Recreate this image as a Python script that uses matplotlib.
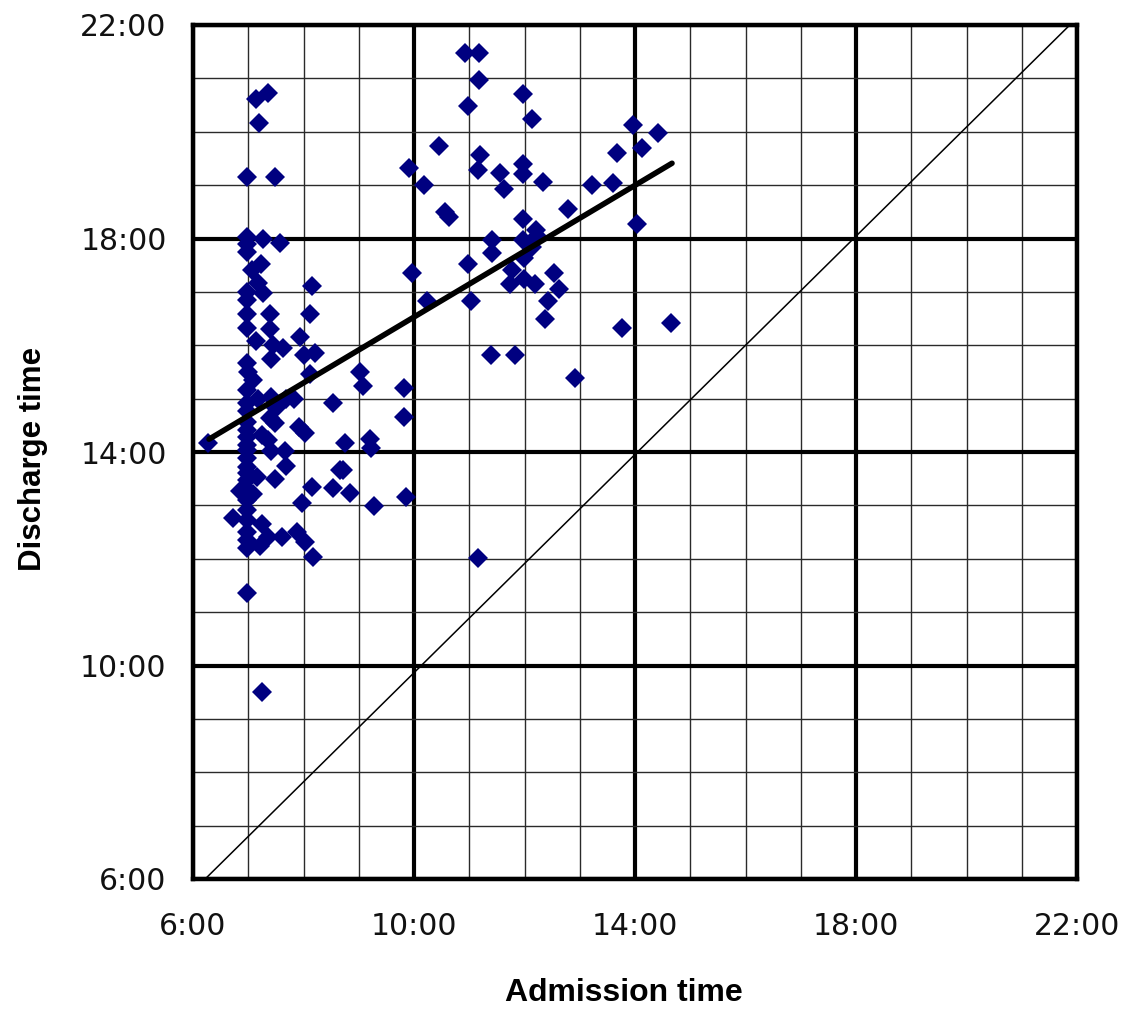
import matplotlib
matplotlib.use("Agg")
import matplotlib.pyplot as plt
from matplotlib.ticker import MultipleLocator, FuncFormatter

# Admission / discharge times in decimal hours
admission = [
    # dense column near 7:00
    6.97, 6.97, 6.97, 6.97, 6.97, 6.97, 6.97, 6.97, 6.97, 7.00,
    6.97, 6.97, 6.97, 6.97, 6.97, 6.97, 6.97, 6.97, 6.97, 6.97,
    6.97, 6.97, 6.97, 6.97, 6.97, 6.97, 6.97, 6.97, 6.97, 6.97,
    # around the column
    6.28, 6.73, 6.85, 7.09, 7.15, 7.09, 7.06, 7.14, 7.20, 7.36,
    7.49, 7.27, 7.57, 7.23, 7.18, 7.27, 8.16, 7.40, 8.12, 7.39,
    7.14, 7.94, 7.45, 7.62, 8.00, 8.21, 7.42, 8.12, 7.18, 7.42,
    7.82, 7.68, 8.54, 7.51, 7.39, 7.48, 7.91, 8.03, 7.24, 7.36,
    7.42, 7.67, 7.69, 7.48, 8.15, 7.97, 7.24, 7.88, 7.61, 7.36,
    8.03, 7.21, 8.18, 7.25,
    # 8:30 - 10:30
    9.97, 10.23, 9.03, 9.08, 9.81, 9.81, 8.75, 9.20, 9.23, 8.66,
    8.72, 8.53, 8.84, 9.28, 9.85, 9.91,
    # late-morning group
    10.93, 11.17, 11.17, 10.98, 11.98, 12.14, 10.45, 10.18, 11.20, 11.16,
    11.56, 11.62, 11.98, 11.98, 12.33, 13.23, 13.61, 13.67, 13.97, 14.41,
    14.12, 10.56, 10.64, 12.79, 11.98, 12.21, 14.03, 11.42, 11.98, 12.22,
    12.13, 11.99, 11.42, 10.98, 11.77, 12.54, 11.73, 11.99, 12.19, 12.63,
    11.04, 12.42, 12.38, 13.77, 14.65, 11.39, 11.82, 12.91, 11.16,
]
discharge = [
    19.15, 18.02, 17.90, 17.75, 17.00, 16.85, 16.59, 16.32, 15.66, 15.50,
    15.16, 14.91, 14.76, 14.57, 14.41, 14.28, 14.13, 14.04, 13.88, 13.72,
    13.61, 13.47, 13.29, 13.10, 12.91, 12.73, 12.51, 12.35, 12.20, 11.36,
    14.16, 12.76, 13.26, 13.22, 13.54, 15.35, 17.41, 20.61, 20.16, 20.73,
    19.16, 17.99, 17.91, 17.52, 17.16, 16.97, 17.11, 16.58, 16.58, 16.31,
    16.08, 16.16, 16.00, 15.94, 15.82, 15.85, 15.75, 15.46, 15.00, 15.03,
    15.00, 15.00, 14.91, 14.82, 14.63, 14.54, 14.46, 14.35, 14.32, 14.22,
    14.01, 14.01, 13.73, 13.50, 13.35, 13.04, 12.66, 12.51, 12.41, 12.41,
    12.32, 12.23, 12.04, 9.50,
    17.36, 16.82, 15.50, 15.24, 15.19, 14.66, 14.16, 14.25, 14.07, 13.66,
    13.66, 13.32, 13.24, 12.99, 13.16, 19.33,
    21.48, 21.48, 20.97, 20.48, 20.71, 20.24, 19.74, 19.00, 19.57, 19.28,
    19.23, 18.92, 19.39, 19.20, 19.06, 19.01, 19.04, 19.60, 20.13, 19.98,
    19.69, 18.50, 18.41, 18.56, 18.36, 18.16, 18.28, 17.98, 17.98, 18.04,
    17.85, 17.64, 17.73, 17.53, 17.41, 17.36, 17.15, 17.25, 17.15, 17.06,
    16.82, 16.82, 16.49, 16.32, 16.41, 15.82, 15.82, 15.38, 12.01,
]

# trend line and reference diagonal end points (hours)
trend_x = [6.29, 14.67]
trend_y = [14.24, 19.41]
diag_x = [6.22, 21.87]
diag_y = [6.0, 22.0]

major_ticks = [6, 10, 14, 18, 22]

fig = plt.figure(figsize=(11.24, 10.10), dpi=100)
ax = fig.add_axes([193 / 1124, 1 - 879 / 1010, (1077 - 193) / 1124, (879 - 25) / 1010])

ax.set_xlim(6, 22)
ax.set_ylim(6, 22)
ax.set_xticks(major_ticks)
ax.set_yticks(major_ticks)
ax.xaxis.set_minor_locator(MultipleLocator(1))
ax.yaxis.set_minor_locator(MultipleLocator(1))

fmt = FuncFormatter(lambda v, p: f"{int(round(v))}:00")
ax.xaxis.set_major_formatter(fmt)
ax.yaxis.set_major_formatter(fmt)

ax.grid(which="minor", color="#2a2a2a", linewidth=1.0, zorder=0)
ax.grid(which="major", color="black", linewidth=3.0, zorder=0.5)
ax.set_axisbelow(True)

for s in ax.spines.values():
    s.set_linewidth(3.2)
    s.set_color("black")

ax.tick_params(which="both", length=0)
ax.tick_params(axis="x", pad=24, labelsize=21.5)
ax.tick_params(axis="y", pad=19, labelsize=21.5)
for lab in ax.get_xticklabels() + ax.get_yticklabels():
    lab.set_color("#111111")

ax.plot(admission, discharge, linestyle="none", marker="D", markersize=9.8,
        color="#000080", markeredgewidth=0, zorder=3)
ax.plot(diag_x, diag_y, color="black", linewidth=1.1, zorder=4)
ax.plot(trend_x, trend_y, color="black", linewidth=4.0, solid_capstyle="round", zorder=5)

fig.text(624 / 1124, 1 - 993 / 1010, "Admission time", ha="center", va="center",
         fontsize=23, fontweight="bold", family="Liberation Sans")
fig.text(33 / 1124, 1 - 459 / 1010, "Discharge time", ha="center", va="center",
         rotation=90, fontsize=22.5, fontweight="bold", family="Liberation Sans")

fig.savefig("out.png", dpi=100)
